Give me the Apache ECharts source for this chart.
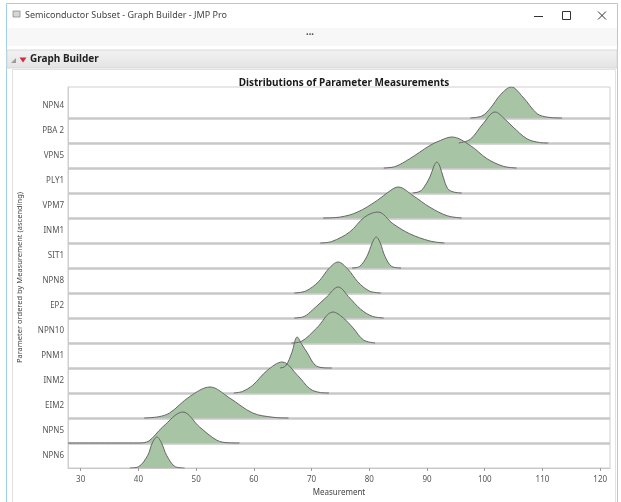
<!DOCTYPE html>
<html>
<head>
<meta charset="utf-8">
<script src="https://cdn.jsdelivr.net/npm/echarts@6/dist/echarts.min.js"></script>
<style>
  html, body { margin: 0; padding: 0; background: #ffffff; }
  #chart { width: 621px; height: 502px; }
</style>
</head>
<body>
<div id="chart"></div>
<script>
// Parameters, listed from the bottom row to the top row (ascending mean measurement)
const params = ['NPN6', 'NPN5', 'EIM2', 'INM2', 'PNM1', 'NPN10', 'EP2', 'NPN8', 'SIT1', 'INM1', 'VPM7', 'PLY1', 'VPN5', 'PBA 2', 'NPN4'];

// Density outlines per parameter: [measurement, relative density height]
const densNPN6  = [[38.5, 0], [40, 0.05], [41.6, 0.5], [42.4, 1.0], [43.2, 1.24], [44.0, 1.0], [44.9, 0.5], [46.4, 0.05], [48, 0]];
const densNPN5  = [[27.8, 0], [40, 0], [41.8, 0.08], [44.2, 0.64], [47.7, 1.24], [50.6, 0.64], [53.6, 0.11], [55.5, 0.01], [57.5, 0]];
const densEIM2  = [[41, 0], [43.5, 0.05], [45.4, 0.2], [48.9, 0.86], [52.4, 1.24], [55.8, 0.8], [59.8, 0.2], [63.3, 0.03], [66, 0]];
const densINM2  = [[56.5, 0], [58, 0.06], [59.8, 0.31], [62.3, 0.9], [64.9, 1.24], [67.6, 0.7], [69.7, 0.17], [71.5, 0.02], [73, 0]];
const densPNM1  = [[64.5, 0], [65.5, 0.08], [66.6, 0.63], [67.5, 1.24], [68.3, 0.95], [69.2, 0.63], [70.6, 0.12], [72, 0.01], [73.5, 0]];
const densNPN10 = [[66.5, 0], [68.2, 0.06], [70.9, 0.6], [73.7, 1.24], [75.5, 1.0], [77.2, 0.6], [79, 0.12], [81, 0]];
const densEP2   = [[67, 0], [68.7, 0.06], [70.2, 0.33], [72.7, 0.86], [74.6, 1.24], [76.6, 0.8], [78.5, 0.35], [80.5, 0.07], [82.5, 0]];
const densNPN8  = [[67, 0], [69, 0.08], [71.2, 0.45], [73, 0.98], [74.6, 1.24], [76.3, 0.95], [78, 0.45], [80, 0.08], [82, 0]];
const densSIT1  = [[77, 0], [78.3, 0.06], [79.6, 0.47], [80.5, 1.0], [81.2, 1.24], [81.9, 1.0], [82.7, 0.47], [83.9, 0.06], [85.5, 0]];
const densINM1  = [[71.5, 0], [73.5, 0.06], [76.6, 0.44], [79.2, 1.04], [81.5, 1.24], [84.1, 0.77], [87, 0.37], [90.5, 0.08], [93, 0]];
const densVPM7  = [[72, 0], [75, 0.04], [77.9, 0.23], [81.3, 0.69], [83.6, 1.09], [85, 1.24], [87.6, 0.89], [90.5, 0.43], [93.5, 0.09], [96, 0]];
const densPLY1  = [[87.5, 0], [88.6, 0.05], [89.3, 0.17], [90.5, 0.64], [91.2, 1.08], [91.7, 1.24], [92.2, 1.08], [92.8, 0.64], [93.6, 0.17], [94.6, 0.04], [96, 0]];
const densVPN5  = [[82.5, 0], [84.5, 0.06], [87.0, 0.37], [90.5, 0.9], [92.3, 1.1], [94.3, 1.24], [97.5, 0.9], [100.4, 0.37], [103.2, 0.07], [105.5, 0]];
const densPBA2  = [[95.5, 0], [97.5, 0.15], [99.7, 0.77], [101.8, 1.24], [103.5, 0.95], [104.9, 0.64], [107.3, 0.17], [109.5, 0.02], [111, 0]];
const densNPN4  = [[97.5, 0], [99.5, 0.08], [100.9, 0.37], [102.8, 0.95], [104.6, 1.24], [106.6, 0.84], [109.1, 0.17], [111, 0.03], [113.4, 0]];

const densities = [densNPN6, densNPN5, densEIM2, densINM2, densPNM1, densNPN10, densEP2, densNPN8,
                   densSIT1, densINM1, densVPM7, densPLY1, densVPN5, densPBA2, densNPN4];

// Measurement axis tick labels
const xTicks = [30, 40, 50, 60, 70, 80, 90, 100, 110, 120];

const FONT = 'Noto Sans';
const chart = echarts.init(document.getElementById('chart'), null, { renderer: 'canvas' });

// Row separators sit behind the ridges
const separatorSeries = {
  type: 'line',
  data: [[27.8, 0]],
  showSymbol: false,
  lineStyle: { width: 0 },
  silent: true,
  z: 1,
  markLine: {
    silent: true,
    z: 1,
    symbol: 'none',
    label: { show: false },
    lineStyle: { color: '#c8c8c8', width: 2.5, type: 'solid' },
    data: params.slice(1).map((_, i) => ({ yAxis: i + 1 }))
  }
};

// One ridge per parameter; lower rows are drawn last so they overlap the rows above
const ridgeSeries = [];
for (let idx = params.length - 1; idx >= 0; idx--) {
  ridgeSeries.push({
    name: params[idx],
    type: 'line',
    data: densities[idx].map(p => [p[0], idx + p[1]]),
    smooth: 0.35,
    symbol: 'none',
    silent: true,
    z: 6,
    lineStyle: { color: '#666666', width: 1 },
    areaStyle: { color: '#a7c5a4', opacity: 1, origin: idx }
  });
}

const option = {
  animation: false,
  backgroundColor: '#ffffff',
  textStyle: { fontFamily: FONT },
  title: {
    text: 'Distributions of Parameter Measurements',
    left: 339,
    top: 73,
    textAlign: 'center',
    textStyle: { fontFamily: FONT, fontSize: 10, fontWeight: 'bold', color: '#1a1a1a' }
  },
  grid: {
    left: 68, right: 11, top: 87, bottom: 33,
    show: true,
    backgroundColor: '#ffffff',
    borderColor: '#cfcfcf',
    borderWidth: 1
  },
  xAxis: {
    type: 'value',
    min: 27.8,
    max: 121.7,
    name: 'Measurement',
    nameLocation: 'middle',
    nameGap: 21,
    nameTextStyle: { fontFamily: FONT, fontSize: 8, color: '#444' },
    axisLine: { show: true, lineStyle: { color: '#c8c8c8' } },
    axisTick: { show: true, customValues: xTicks, length: 3, lineStyle: { color: '#9a9a9a' } },
    axisLabel: { customValues: xTicks, fontFamily: FONT, fontSize: 8, color: '#555', margin: 8 },
    splitLine: { show: false }
  },
  yAxis: {
    type: 'value',
    min: 0,
    max: 15.24,
    interval: 1,
    name: 'Parameter ordered by Measurement (ascending)',
    nameLocation: 'middle',
    nameGap: 44,
    nameTextStyle: { fontFamily: FONT, fontSize: 7.5, color: '#444' },
    axisLine: { show: true, lineStyle: { color: '#cfcfcf' } },
    axisTick: { show: false },
    splitLine: { show: false },
    axisLabel: {
      fontFamily: FONT,
      fontSize: 8,
      color: '#555',
      margin: 4,
      verticalAlign: 'bottom',
      lineHeight: 25,
      formatter: v => (Number.isInteger(v) && v >= 0 && v < params.length) ? params[v] : ''
    }
  },
  graphic: [
    // window frame
    { type: 'rect', silent: true, z: -1,
      shape: { x: 6.5, y: 3.5, width: 611, height: 520 },
      style: { fill: 'none', stroke: '#9fd0ea', lineWidth: 1 } },
    // title bar icon
    { type: 'rect', silent: true, shape: { x: 13, y: 11, width: 7, height: 6 },
      style: { fill: '#d6d6d6', stroke: '#8a8a8a', lineWidth: 0.8 } },
    { type: 'text', silent: true, x: 25, y: 15,
      style: { text: 'Semiconductor Subset - Graph Builder - JMP Pro', fontFamily: FONT, fontSize: 9,
               fill: '#444', verticalAlign: 'middle' } },
    // window controls
    { type: 'line', silent: true, shape: { x1: 534, y1: 16.5, x2: 543, y2: 16.5 },
      style: { stroke: '#333', lineWidth: 1 } },
    { type: 'rect', silent: true, shape: { x: 562.5, y: 11.5, width: 8, height: 8 },
      style: { fill: 'none', stroke: '#333', lineWidth: 1 } },
    { type: 'line', silent: true, shape: { x1: 598, y1: 11.5, x2: 606, y2: 19.5 },
      style: { stroke: '#333', lineWidth: 1 } },
    { type: 'line', silent: true, shape: { x1: 606, y1: 11.5, x2: 598, y2: 19.5 },
      style: { stroke: '#333', lineWidth: 1 } },
    // toolbar strip
    { type: 'rect', silent: true, shape: { x: 7, y: 28, width: 610, height: 18 },
      style: { fill: '#f7f7f7' } },
    { type: 'text', silent: true, x: 310, y: 35,
      style: { text: '•••', fontFamily: FONT, fontSize: 7, fill: '#555', align: 'center', verticalAlign: 'middle' } },
    // report outline header
    { type: 'rect', silent: true, shape: { x: 7, y: 50, width: 610, height: 18 },
      style: {
        fill: new echarts.graphic.LinearGradient(0, 0, 0, 1, [
          { offset: 0, color: '#f3f3f3' }, { offset: 1, color: '#e3e3e3' }
        ]),
        stroke: '#d8d8d8', lineWidth: 1
      } },
    { type: 'polygon', silent: true, shape: { points: [[11, 63], [16, 58], [16, 63]] },
      style: { fill: '#9c9c9c' } },
    { type: 'polygon', silent: true, shape: { points: [[19.5, 57.5], [26.5, 57.5], [23, 62.5]] },
      style: { fill: '#d42a40' } },
    { type: 'text', silent: true, x: 30, y: 59.5,
      style: { text: 'Graph Builder', fontFamily: FONT, fontSize: 10, fontWeight: 'bold',
               fill: '#222', verticalAlign: 'middle' } },
    // content frame
    { type: 'rect', silent: true, z: -1, shape: { x: 12.5, y: 69.5, width: 603, height: 440 },
      style: { fill: 'none', stroke: '#e2e2e2', lineWidth: 1 } }
  ],
  series: [separatorSeries].concat(ridgeSeries)
};

chart.setOption(option);
</script>
</body>
</html>
